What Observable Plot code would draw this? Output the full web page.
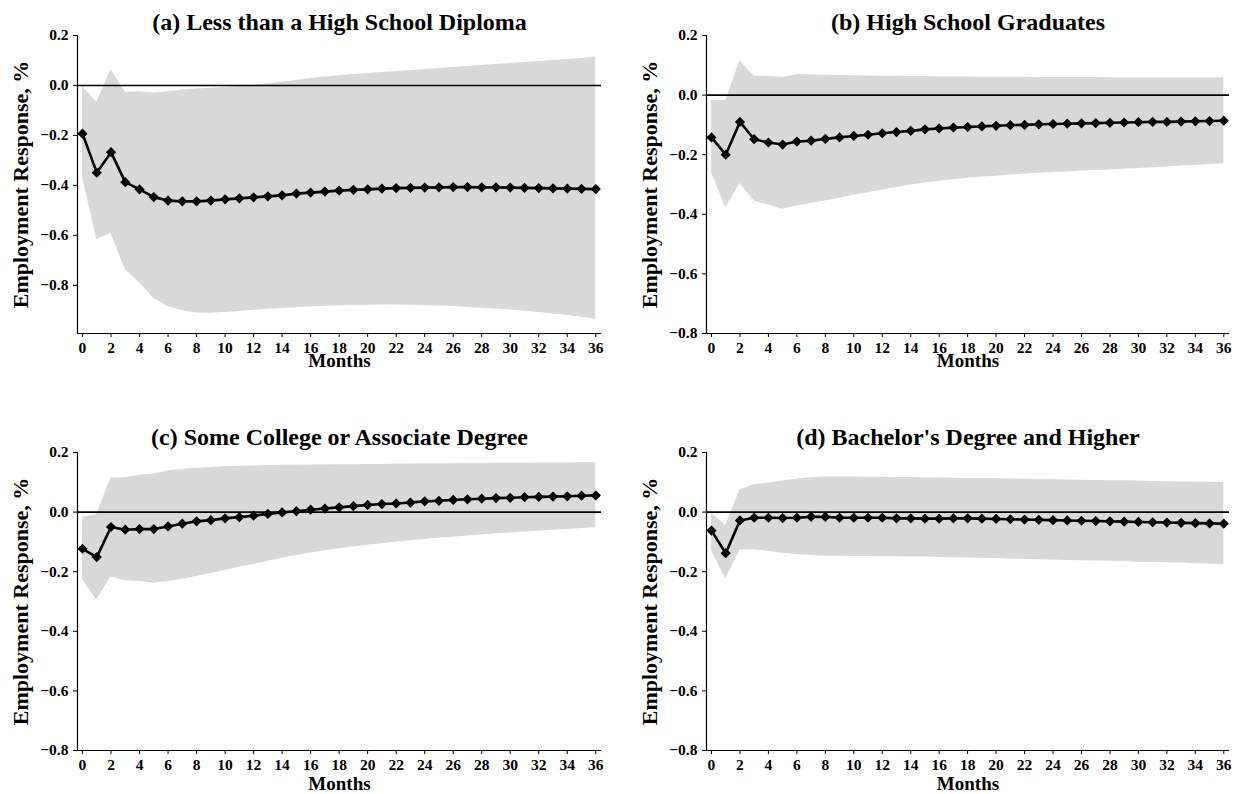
<!DOCTYPE html>
<html><head><meta charset="utf-8">
<script src="https://cdn.jsdelivr.net/npm/d3@7"></script>
<script src="https://cdn.jsdelivr.net/npm/@observablehq/plot@0.6"></script>
<style>
body{margin:0;background:#fff;}
#root{position:relative;width:1241px;height:794px;background:#fff;overflow:hidden;}
.panel{position:absolute;}
</style></head><body><div id="root"></div>
<script>
const months = [0,1,2,3,4,5,6,7,8,9,10,11,12,13,14,15,16,17,18,19,20,21,22,23,24,25,26,27,28,29,30,31,32,33,34,35,36];
const xTicks = [0,2,4,6,8,10,12,14,16,18,20,22,24,26,28,30,32,34,36];
const yTicks = [0.2,0.0,-0.2,-0.4,-0.6,-0.8];
const yLabel = "Employment Response, %";
const xLabel = "Months";

const titleA = "(a) Less than a High School Diploma";
const respA = [-0.193,-0.349,-0.267,-0.387,-0.416,-0.447,-0.461,-0.464,-0.464,-0.461,-0.456,-0.452,-0.448,-0.444,-0.44,-0.433,-0.429,-0.425,-0.421,-0.418,-0.416,-0.413,-0.411,-0.41,-0.409,-0.408,-0.407,-0.407,-0.408,-0.408,-0.409,-0.41,-0.411,-0.412,-0.413,-0.414,-0.415];
const hiA = [-0.005,-0.067,0.064,-0.027,-0.025,-0.03,-0.025,-0.018,-0.014,-0.011,-0.008,-0.004,0.001,0.007,0.013,0.02,0.028,0.034,0.039,0.044,0.048,0.052,0.056,0.06,0.064,0.068,0.072,0.076,0.08,0.084,0.088,0.092,0.096,0.1,0.104,0.108,0.115];
const loA = [-0.367,-0.617,-0.593,-0.737,-0.79,-0.853,-0.885,-0.902,-0.911,-0.912,-0.909,-0.905,-0.9,-0.896,-0.893,-0.89,-0.887,-0.884,-0.882,-0.881,-0.88,-0.879,-0.879,-0.88,-0.881,-0.883,-0.885,-0.889,-0.892,-0.895,-0.899,-0.904,-0.909,-0.915,-0.921,-0.928,-0.936];

const titleB = "(b) High School Graduates";
const respB = [-0.142,-0.2,-0.09,-0.148,-0.159,-0.166,-0.156,-0.153,-0.147,-0.142,-0.137,-0.133,-0.128,-0.124,-0.12,-0.115,-0.112,-0.109,-0.107,-0.105,-0.103,-0.101,-0.1,-0.098,-0.097,-0.096,-0.095,-0.094,-0.093,-0.092,-0.091,-0.09,-0.09,-0.089,-0.088,-0.087,-0.086];
const hiB = [-0.018,-0.018,0.115,0.063,0.063,0.059,0.068,0.068,0.067,0.066,0.065,0.064,0.063,0.063,0.062,0.062,0.061,0.061,0.061,0.06,0.06,0.06,0.06,0.059,0.059,0.059,0.059,0.059,0.058,0.058,0.058,0.058,0.058,0.058,0.058,0.058,0.058];
const loB = [-0.26,-0.378,-0.297,-0.355,-0.369,-0.383,-0.372,-0.364,-0.355,-0.346,-0.336,-0.328,-0.319,-0.31,-0.302,-0.295,-0.289,-0.284,-0.279,-0.275,-0.272,-0.268,-0.265,-0.262,-0.26,-0.258,-0.255,-0.253,-0.251,-0.249,-0.246,-0.244,-0.241,-0.238,-0.236,-0.233,-0.23];

const titleC = "(c) Some College or Associate Degree";
const respC = [-0.123,-0.151,-0.05,-0.059,-0.057,-0.057,-0.048,-0.039,-0.031,-0.027,-0.021,-0.017,-0.012,-0.006,-0.001,0.003,0.008,0.012,0.016,0.02,0.024,0.027,0.029,0.032,0.036,0.038,0.041,0.043,0.045,0.047,0.048,0.05,0.051,0.052,0.053,0.055,0.056];
const hiC = [-0.017,-0.008,0.115,0.115,0.124,0.128,0.138,0.143,0.147,0.15,0.152,0.154,0.155,0.156,0.157,0.157,0.158,0.158,0.159,0.159,0.16,0.16,0.161,0.161,0.162,0.162,0.162,0.163,0.163,0.164,0.164,0.164,0.165,0.165,0.165,0.166,0.166];
const loC = [-0.227,-0.295,-0.218,-0.23,-0.233,-0.239,-0.233,-0.225,-0.216,-0.206,-0.196,-0.185,-0.176,-0.165,-0.155,-0.146,-0.137,-0.13,-0.123,-0.117,-0.111,-0.106,-0.101,-0.096,-0.092,-0.088,-0.084,-0.08,-0.077,-0.073,-0.07,-0.067,-0.064,-0.061,-0.058,-0.055,-0.052];

const titleD = "(d) Bachelor's Degree and Higher";
const respD = [-0.062,-0.138,-0.028,-0.019,-0.019,-0.02,-0.019,-0.016,-0.016,-0.019,-0.019,-0.019,-0.019,-0.021,-0.021,-0.022,-0.022,-0.021,-0.021,-0.022,-0.023,-0.024,-0.025,-0.026,-0.027,-0.028,-0.029,-0.03,-0.031,-0.032,-0.033,-0.034,-0.035,-0.036,-0.037,-0.038,-0.039];
const hiD = [-0.003,-0.045,0.075,0.092,0.097,0.104,0.111,0.115,0.118,0.118,0.118,0.117,0.117,0.116,0.116,0.115,0.115,0.114,0.113,0.113,0.112,0.111,0.11,0.109,0.109,0.108,0.107,0.106,0.105,0.105,0.104,0.103,0.102,0.101,0.101,0.1,0.099];
const loD = [-0.129,-0.224,-0.127,-0.127,-0.131,-0.138,-0.143,-0.146,-0.148,-0.148,-0.149,-0.149,-0.15,-0.15,-0.151,-0.151,-0.152,-0.153,-0.154,-0.155,-0.156,-0.158,-0.159,-0.16,-0.161,-0.162,-0.163,-0.164,-0.165,-0.166,-0.168,-0.169,-0.17,-0.171,-0.173,-0.174,-0.176];

const xDomain = [-0.35, 36.4];
const font = "'Liberation Serif','Times New Roman',serif";

const panels = [
  {title: titleA, resp: respA, lo: loA, hi: hiA, yDomain: [-0.993, 0.2], left: 0, top: 0, width: 620, height: 380, mL: 77, mR: 19, mT: 35, mB: 47, titleDy: -13, monthsDy: 27},
  {title: titleB, resp: respB, lo: loB, hi: hiB, yDomain: [-0.8, 0.2], left: 620, top: 0, width: 621, height: 380, mL: 86, mR: 12, mT: 35, mB: 47, titleDy: -13, monthsDy: 27},
  {title: titleC, resp: respC, lo: loC, hi: hiC, yDomain: [-0.8, 0.2], left: 0, top: 400, width: 620, height: 394, mL: 77, mR: 19, mT: 52, mB: 44, titleDy: -15, monthsDy: 33},
  {title: titleD, resp: respD, lo: loD, hi: hiD, yDomain: [-0.8, 0.2], left: 620, top: 400, width: 621, height: 394, mL: 86, mR: 12, mT: 52, mB: 44, titleDy: -15, monthsDy: 33}
];

const root = document.getElementById("root");
for (const p of panels) {
  const data = months.map((m, i) => ({m, v: p.resp[i], lo: p.lo[i], hi: p.hi[i]}));
  const chart = Plot.plot({
    width: p.width, height: p.height,
    marginLeft: p.mL, marginRight: p.mR, marginTop: p.mT, marginBottom: p.mB,
    x: {domain: xDomain},
    y: {domain: p.yDomain},
    style: {fontFamily: font, fontWeight: "bold", fontSize: "15px", color: "#000", background: "transparent", overflow: "visible"},
    marks: [
      Plot.areaY(data, {x: "m", y1: "lo", y2: "hi", fill: "#d9d9d9"}),
      Plot.ruleY([0], {stroke: "#000", strokeWidth: 1.6}),
      Plot.line(data, {x: "m", y: "v", stroke: "#000", strokeWidth: 2.6}),
      Plot.dot(data, {x: "m", y: "v", symbol: "diamond2", r: 4.6, fill: "#000", stroke: "none"}),
      Plot.axisX({ticks: xTicks, tickSize: 4, tickPadding: 4, fontSize: 15.5, label: null, tickFormat: d3.format("d")}),
      Plot.axisY({ticks: yTicks, tickSize: 4, tickPadding: 5, fontSize: 15.5, label: null, tickFormat: d3.format(".1f")}),
      Plot.ruleX([xDomain[0]], {stroke: "#000", strokeWidth: 1.2}),
      Plot.ruleY([p.yDomain[0]], {stroke: "#000", strokeWidth: 1.2}),
      Plot.text([p.title], {text: d => d, frameAnchor: "top", lineAnchor: "middle", textAnchor: "middle", dy: p.titleDy, fontSize: 24, fontWeight: "bold"}),
      Plot.text([yLabel], {text: d => d, frameAnchor: "left", lineAnchor: "middle", textAnchor: "middle", dx: -57, rotate: -90, fontSize: 22, fontWeight: "bold"}),
      Plot.text([xLabel], {text: d => d, frameAnchor: "bottom", lineAnchor: "middle", textAnchor: "middle", dy: p.monthsDy, fontSize: 19, fontWeight: "bold"})
    ]
  });
  chart.classList.add("panel");
  chart.style.left = p.left + "px";
  chart.style.top = p.top + "px";
  root.appendChild(chart);
}
</script>
</body></html>
